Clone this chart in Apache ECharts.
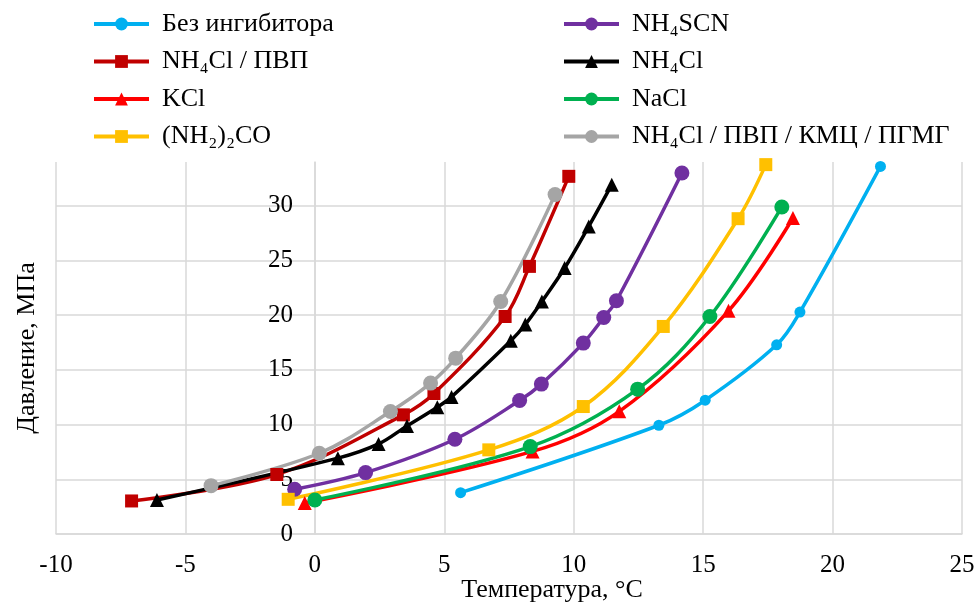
<!DOCTYPE html>
<html>
<head>
<meta charset="utf-8">
<script src="https://cdn.jsdelivr.net/npm/echarts@6/dist/echarts.min.js"></script>
<style>
html,body{margin:0;padding:0;background:#fff;}
#chart{width:977px;height:603px;}
</style>
</head>
<body>
<div id="chart"></div>
<script>
// ---- Data (temperature °C, pressure MPa) ----
var xTicks = [-10, -5, 0, 5, 10, 15, 20, 25];
var yTicks = [0, 5, 10, 15, 20, 25, 30];

var noInhibitor = [[5.63,3.78],[13.29,9.94],[15.08,12.23],[17.84,17.29],[18.74,20.28],[21.85,33.6]];
var nh4scn = [[-0.78,4.09],[1.96,5.61],[5.41,8.66],[7.91,12.2],[8.75,13.7],[10.37,17.45],[11.16,19.79],[11.65,21.32],[14.18,33.0]];
var nh4clPvp = [[-7.08,3.02],[-1.47,5.44],[3.42,10.89],[4.6,12.84],[7.35,19.88],[8.29,24.46],[9.81,32.69]];
var nh4cl = [[-6.1,3.1],[0.89,6.93],[2.46,8.23],[3.56,9.88],[4.73,11.59],[5.28,12.53],[7.57,17.66],[8.13,19.15],[8.77,21.25],[9.65,24.31],[10.58,28.11],[11.47,31.93]];
var kcl = [[-0.39,2.84],[8.41,7.55],[11.76,11.21],[15.98,20.4],[18.47,28.88]];
var nacl = [[0.0,3.11],[8.32,7.99],[12.47,13.24],[15.26,19.88],[18.04,29.89]];
var urea = [[-1.03,3.17],[6.72,7.69],[10.37,11.65],[13.46,18.97],[16.35,28.82],[17.42,33.76]];
var mix = [[-4.01,4.42],[0.17,7.38],[2.92,11.19],[4.47,13.79],[5.44,16.07],[7.18,21.25],[9.28,31.02]];

var names = ['Без ингибитора','NH₄SCN','NH₄Cl / ПВП','NH₄Cl','KCl','NaCl','(NH₂)₂CO','NH₄Cl / ПВП / КМЦ / ПГМГ'];
var colors = ['#00B0F0','#7030A0','#C00000','#000000','#FF0000','#00B050','#FFC000','#A5A5A5'];
var datasets = [noInhibitor, nh4scn, nh4clPvp, nh4cl, kcl, nacl, urea, mix];
var symbols = ['circle','circle','rect','triangle','triangle','circle','rect','circle'];
var sizes = [11,15,13,14,14,15,13,15];

var FONT = "'Liberation Serif','Times New Roman',serif";
var grid = '#D9D9D9';

var series = datasets.map(function(d, i){
  return {
    name: names[i], type: 'line', data: d, smooth: 0.35,
    symbol: symbols[i], symbolSize: sizes[i],
    lineStyle: {color: colors[i], width: 3.5},
    itemStyle: {color: colors[i]},
    emphasis: {disabled: true}, animation: false
  };
});

var legendBase = {
  orient: 'vertical', top: 6, itemWidth: 55, itemHeight: 16, itemGap: 11.5,
  lineStyle: {width: 4},
  textStyle: {fontFamily: FONT, fontSize: 26, color: '#000', padding: [0,0,0,8], lineHeight: 26},
  selectedMode: false
};

var option = {
  backgroundColor: '#fff',
  animation: false,
  legend: [
    Object.assign({}, legendBase, {left: 87, data: [names[0], names[2], names[4], names[6]]}),
    Object.assign({}, legendBase, {left: 557, data: [names[1], names[3], names[5], names[7]]})
  ],
  grid: {left: 56, right: 15, top: 162, bottom: 69, containLabel: false, outerBoundsMode: 'none'},
  xAxis: {
    type: 'value', min: xTicks[0], max: xTicks[xTicks.length-1], interval: 5,
    name: 'Температура, °C', nameLocation: 'middle', nameGap: 43, nameMoveOverlap: false,
    nameTextStyle: {fontFamily: FONT, fontSize: 26, color: '#000', padding: [0,0,0,86]},
    axisLine: {show: true, onZero: false, lineStyle: {color: grid, width: 1.5}},
    axisTick: {show: false},
    axisLabel: {fontFamily: FONT, fontSize: 25, color: '#000', margin: 19, hideOverlap: false},
    splitLine: {show: true, lineStyle: {color: grid, width: 1.5}}
  },
  yAxis: {
    type: 'value', min: yTicks[0], max: 34, interval: 5, offset: -259,
    name: 'Давление, МПа', nameLocation: 'middle', nameGap: 275, nameRotate: 90, nameMoveOverlap: false,
    nameTextStyle: {fontFamily: FONT, fontSize: 26, color: '#000'},
    axisLine: {show: true, onZero: false, lineStyle: {color: grid, width: 1.5}},
    axisTick: {show: false},
    axisLabel: {fontFamily: FONT, fontSize: 25, color: '#000', margin: 22, showMaxLabel: false, hideOverlap: false},
    splitLine: {show: true, showMaxLine: false, lineStyle: {color: grid, width: 1.5}}
  },
  series: series
};

var chart = echarts.init(document.getElementById('chart'), null, {renderer: 'canvas'});
chart.setOption(option);
</script>
</body>
</html>
